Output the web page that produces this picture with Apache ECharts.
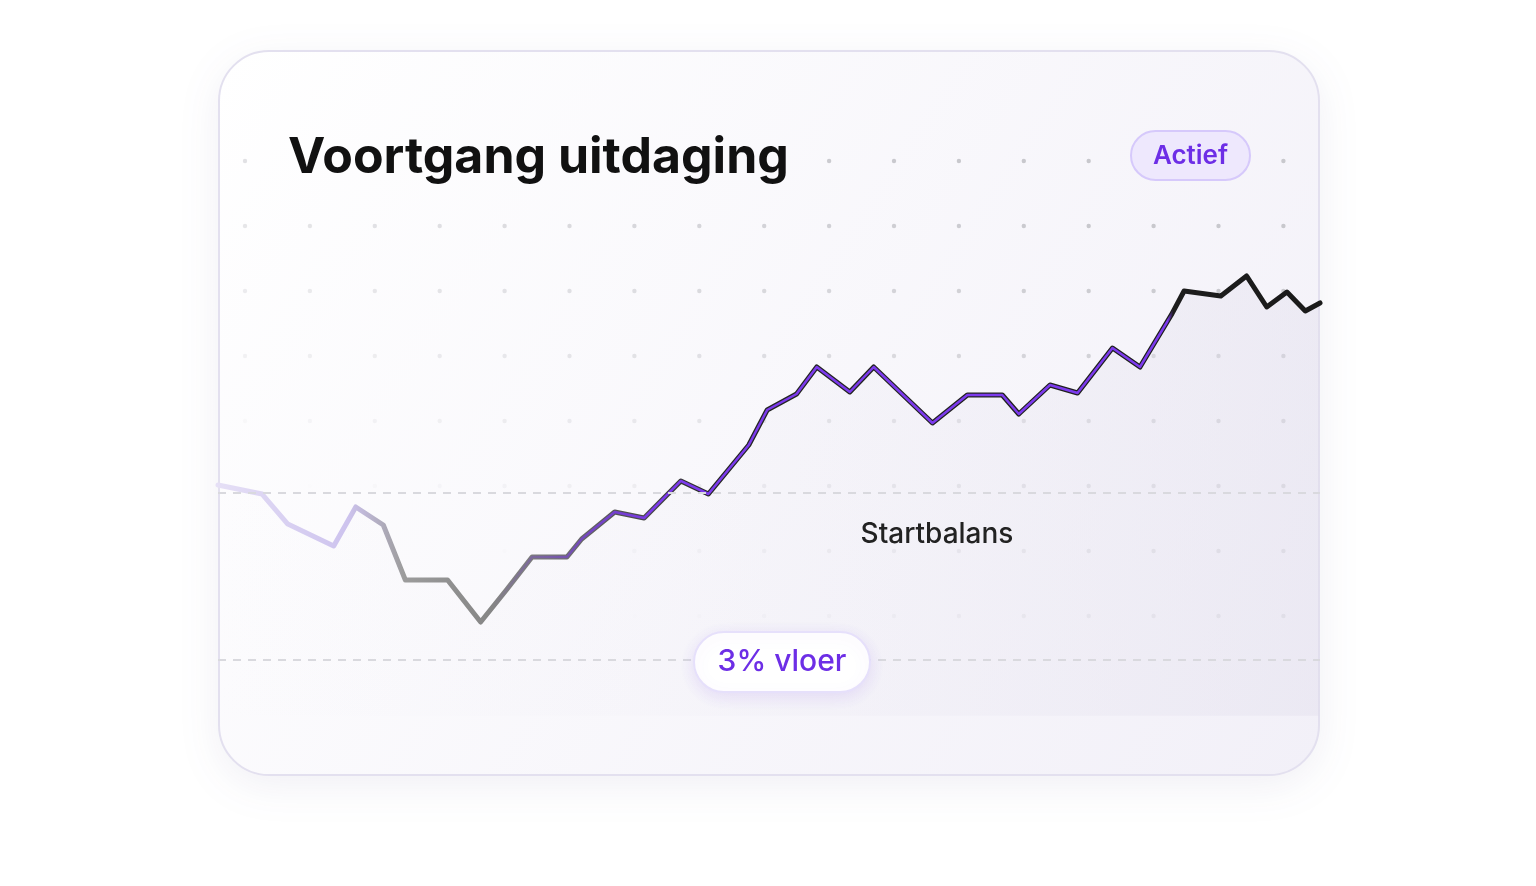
<!DOCTYPE html>
<html><head><meta charset="utf-8">
<script src="https://cdn.jsdelivr.net/npm/echarts@6/dist/echarts.min.js"></script>
<style>html,body{margin:0;background:#fff}#c{width:1536px;height:886px}</style>
</head><body><div id="c"></div>
<script>
const days = [0,2.4,3.8,6.3,7.5,9.0,10.2,12.5,14.3,15.7,17.1,19.0,19.8,21.6,23.2,25.2,26.7,28.9,29.9,31.5,32.6,34.4,35.7,38.9,40.8,42.7,43.6,45.3,46.8,48.7,50.2,51.9,52.6,54.6,56.0,57.1,58.2,59.2,60];
const balance = [100144,99982,99443,99048,99749,99425,98437,98437,97683,98258,98850,98850,99174,99659,99551,100216,99982,100862,101491,101778,102263,101814,102263,101257,101760,101760,101419,101940,101796,102604,102263,103196,103628,103538,103898,103341,103610,103269,103413];
const startBalance = 100000;
const floorValue = 97000;
const title = 'Voortgang uitdaging';
const statusLabel = 'Actief';
const startLabel = 'Startbalans';
const floorLabel = '3% vloer';

const pts = days.map((d,i)=>[d,balance[i]]);
const chart = echarts.init(document.getElementById('c'));
const dots = [];
for (let r=0;r<8;r++) for (let k=0;k<17;k++){
  const x=245+64.9*k, y=161+65*r;
  const fx=(x-245)/1040, fy=1-(y-161)/455;
  let op=Math.max(0,Math.min(1,(fx*0.7+fy*0.8)-0.25));
  if(x>280&&x<800&&y<200) op=0;
  if(x>1120&&x<1260&&y<200) op=0;
  dots.push({type:'circle',shape:{cx:x,cy:y,r:2.2},style:{fill:'rgba(200,200,205,'+op.toFixed(2)+')'},z:1});
}
chart.setOption({
  animation:false,
  grid:{left:218,right:216,top:270.3,bottom:170.3},
  xAxis:{type:'value',min:0,max:60,show:false},
  yAxis:{type:'value',min:96000,max:104000,show:false},
  graphic:[
    {type:'rect',shape:{x:219,y:51,width:1100,height:724,r:50},z:-10,
     style:{fill:new echarts.graphic.LinearGradient(0,0,1,1,[{offset:0,color:'#ffffff'},{offset:1,color:'#f2f0f8'}]),
     stroke:'#e3e0ef',lineWidth:2,shadowBlur:40,shadowColor:'rgba(60,50,120,0.08)',shadowOffsetY:10}},
    ...dots,
    {type:'text',x:288,y:158,style:{text:title,font:'bold 50px Inter, sans-serif',fill:'#111',textVerticalAlign:'middle'},z:10},
    {type:'rect',shape:{x:1131,y:131,width:119,height:49,r:25},style:{fill:'#eee8fd',stroke:'#d6c9fb',lineWidth:2},z:10},
    {type:'text',x:1190.5,y:156,style:{text:statusLabel,font:'600 26px Inter, sans-serif',fill:'#6d2ee6',textAlign:'center',textVerticalAlign:'middle'},z:11},
    {type:'text',x:937,y:535,style:{text:startLabel,font:'500 28px Inter, sans-serif',fill:'#222',textAlign:'center',textVerticalAlign:'middle'},z:10},
    {type:'rect',shape:{x:694,y:632,width:176,height:60,r:30},style:{fill:'#fff',stroke:'#e6e0fb',lineWidth:2,shadowBlur:16,shadowColor:'rgba(110,60,230,0.12)',shadowOffsetY:4},z:10},
    {type:'text',x:782,y:662,style:{text:floorLabel,font:'500 30px Inter, sans-serif',fill:'#6d2ee6',textAlign:'center',textVerticalAlign:'middle'},z:11}
  ],
  series:[
    {type:'line',data:pts,symbol:'none',z:3,
     lineStyle:{width:5,join:'round',cap:'round',color:new echarts.graphic.LinearGradient(0,0,1,0,[
       {offset:0,color:'#e6e0f6'},{offset:0.12,color:'#cdc3ee'},{offset:0.17,color:'#9c9c9c'},{offset:0.3,color:'#777'},{offset:0.45,color:'#262626'},{offset:1,color:'#1a1a1a'}])},
     areaStyle:{origin:'start',color:new echarts.graphic.LinearGradient(0,0,1,0,[{offset:0,color:'rgba(235,233,242,0)'},{offset:0.4,color:'rgba(235,233,242,0.2)'},{offset:1,color:'rgba(225,222,236,0.6)'}])},
     markLine:{silent:true,symbol:'none',label:{show:false},lineStyle:{color:'#d9d9de',type:[8,7],width:2},
       data:[{yAxis:startBalance},{yAxis:floorValue}]}},
    {type:'line',data:pts,symbol:'none',z:4,
     lineStyle:{width:2.5,join:'round',cap:'round',color:new echarts.graphic.LinearGradient(0,0,1,0,[
       {offset:0,color:'rgba(124,58,237,0)'},{offset:0.25,color:'rgba(124,58,237,0)'},{offset:0.34,color:'rgba(124,58,237,0.7)'},{offset:0.4,color:'#7c3aed'},{offset:0.86,color:'#7c3aed'},{offset:0.865,color:'rgba(124,58,237,0)'},{offset:1,color:'rgba(124,58,237,0)'}])}}
  ]
});
</script></body></html>
